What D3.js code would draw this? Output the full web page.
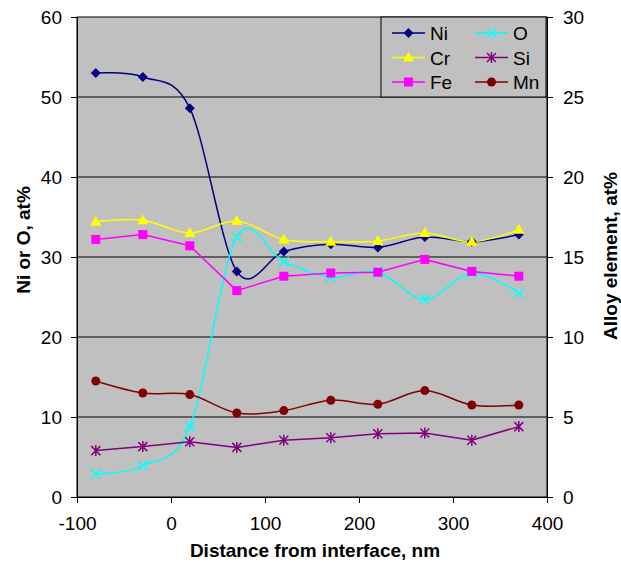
<!DOCTYPE html>
<html>
<head>
<meta charset="utf-8">
<script src="https://cdn.jsdelivr.net/npm/d3@7"></script>
<style>
  body { margin: 0; background: #fff; }
  text { font-family: "Liberation Sans", Arial, sans-serif; }
</style>
</head>
<body>
<div id="chart"></div>
<script>
// distance from interface, nm
const distance = [-80, -30, 20, 70, 120, 170, 220, 270, 320, 370];

// left axis series (Ni or O, at%)
const ni = [53.0, 52.5, 48.6, 28.2, 30.7, 31.6, 31.2, 32.5, 31.9, 32.8];
const o  = [2.9, 3.9, 8.8, 32.5, 29.4, 27.5, 28.1, 24.7, 28.0, 25.5];

// right axis series (alloy element, at%)
const cr = [17.2, 17.3, 16.5, 17.25, 16.1, 15.95, 16.0, 16.5, 15.95, 16.7];
const fe = [16.1, 16.4, 15.7, 12.9, 13.8, 14.0, 14.05, 14.85, 14.1, 13.8];
const si = [2.9, 3.15, 3.45, 3.1, 3.55, 3.7, 3.95, 4.0, 3.55, 4.4];
const mn = [7.25, 6.5, 6.4, 5.25, 5.4, 6.05, 5.8, 6.65, 5.75, 5.75];

const xTicks = [-100, 0, 100, 200, 300, 400];
const yLeftTicks = [0, 10, 20, 30, 40, 50, 60];
const yRightTicks = [0, 5, 10, 15, 20, 25, 30];

const width = 621, height = 566;
const plot = { left: 77, right: 547, top: 17, bottom: 497 };
const fontSize = "19px";

const svg = d3.select("#chart").append("svg")
    .attr("width", width)
    .attr("height", height);

const x = d3.scaleLinear().domain([-100, 400]).range([plot.left, plot.right]);
const yL = d3.scaleLinear().domain([0, 60]).range([plot.bottom, plot.top]);
const yR = d3.scaleLinear().domain([0, 30]).range([plot.bottom, plot.top]);

// plot background
svg.append("rect")
    .attr("x", plot.left).attr("y", plot.top)
    .attr("width", plot.right - plot.left)
    .attr("height", plot.bottom - plot.top)
    .attr("fill", "#c0c0c0");

// gridlines
svg.append("g")
    .selectAll("line")
    .data(yLeftTicks.slice(1, -1))
    .join("line")
    .attr("x1", plot.left).attr("x2", plot.right)
    .attr("y1", d => yL(d)).attr("y2", d => yL(d))
    .attr("stroke", "#000")
    .attr("stroke-width", 1);

// border
svg.append("rect")
    .attr("x", plot.left).attr("y", plot.top)
    .attr("width", plot.right - plot.left)
    .attr("height", plot.bottom - plot.top)
    .attr("fill", "none")
    .attr("stroke", "#000")
    .attr("stroke-width", 1);

// axes (plain hyphen for negative numbers, like the original)
const fmt = d => String(d);
const xAxis = svg.append("g")
    .attr("transform", `translate(0,${plot.bottom})`)
    .call(d3.axisBottom(x).tickValues(xTicks).tickFormat(fmt).tickSize(6).tickPadding(14));
const leftAxis = svg.append("g")
    .attr("transform", `translate(${plot.left},0)`)
    .call(d3.axisLeft(yL).tickValues(yLeftTicks).tickFormat(fmt).tickSize(6).tickPadding(9));
const rightAxis = svg.append("g")
    .attr("transform", `translate(${plot.right},0)`)
    .call(d3.axisRight(yR).tickValues(yRightTicks).tickFormat(fmt).tickSize(6).tickPadding(10));

[xAxis, leftAxis, rightAxis].forEach(g => {
    g.select(".domain").attr("stroke", "#000");
    g.selectAll(".tick line").attr("stroke", "#000");
    g.selectAll(".tick text")
     .attr("fill", "#000")
     .style("font-size", fontSize)
     .style("font-family", "'Liberation Sans', Arial, sans-serif");
});

// axis titles
svg.append("text")
    .attr("x", 315)
    .attr("y", 557)
    .attr("text-anchor", "middle")
    .style("font-size", fontSize)
    .style("font-weight", "bold")
    .text("Distance from interface, nm");

svg.append("text")
    .attr("transform", "translate(30,240) rotate(-90)")
    .attr("text-anchor", "middle")
    .style("font-size", fontSize)
    .style("font-weight", "bold")
    .text("Ni or O, at%");

svg.append("text")
    .attr("transform", "translate(617,256) rotate(-90)")
    .attr("text-anchor", "middle")
    .style("font-size", fontSize)
    .style("font-weight", "bold")
    .text("Alloy element, at%");

// series
const series = [
    { name: "Ni", values: ni, y: yL, color: "#000080", marker: "diamond", smooth: true },
    { name: "O",  values: o,  y: yL, color: "#00ffff", marker: "x", smooth: true },
    { name: "Cr", values: cr, y: yR, color: "#ffff00", marker: "triangle", smooth: true },
    { name: "Si", values: si, y: yR, color: "#800080", marker: "star", smooth: false },
    { name: "Fe", values: fe, y: yR, color: "#ff00ff", marker: "square", smooth: false },
    { name: "Mn", values: mn, y: yR, color: "#800000", marker: "circle", smooth: true }
];

function drawMarker(g, type, color) {
    if (type === "diamond") {
        g.append("path").attr("d", "M0,-5L5,0L0,5L-5,0Z").attr("fill", color);
    } else if (type === "triangle") {
        g.append("path").attr("d", "M0,-6L5.5,4L-5.5,4Z").attr("fill", color);
    } else if (type === "square") {
        g.append("rect").attr("x", -4.5).attr("y", -4.5).attr("width", 9).attr("height", 9).attr("fill", color);
    } else if (type === "circle") {
        g.append("circle").attr("r", 4.5).attr("fill", color);
    } else if (type === "x") {
        g.append("path").attr("d", "M-5,-5L5,5M-5,5L5,-5").attr("stroke", color).attr("stroke-width", 1.5).attr("fill", "none");
    } else if (type === "star") {
        g.append("path").attr("d", "M-4.5,-4.5L4.5,4.5M-4.5,4.5L4.5,-4.5M0,-5.5L0,5.5").attr("stroke", color).attr("stroke-width", 1.5).attr("fill", "none");
    }
}

series.forEach(s => {
    const line = d3.line()
        .x((d, i) => x(distance[i]))
        .y(d => s.y(d))
        .curve(s.smooth ? d3.curveCardinal.tension(0) : d3.curveLinear);
    svg.append("path")
        .datum(s.values)
        .attr("d", line)
        .attr("fill", "none")
        .attr("stroke", s.color)
        .attr("stroke-width", 1.5);
});

series.forEach(s => {
    s.values.forEach((v, i) => {
        const g = svg.append("g").attr("transform", `translate(${x(distance[i])},${s.y(v)})`);
        drawMarker(g, s.marker, s.color);
    });
});

// legend
const legend = svg.append("g");
legend.append("rect")
    .attr("x", 381).attr("y", 17)
    .attr("width", 165).attr("height", 80)
    .attr("fill", "#c0c0c0")
    .attr("stroke", "#000")
    .attr("stroke-width", 1);

const legendOrder = ["Ni", "O", "Cr", "Si", "Fe", "Mn"];
legendOrder.forEach((name, i) => {
    const s = series.find(d => d.name === name);
    const col = i % 2, row = Math.floor(i / 2);
    const lx = 392 + col * 83;
    const ly = 33 + row * 24.5;
    legend.append("line")
        .attr("x1", lx).attr("x2", lx + 33)
        .attr("y1", ly).attr("y2", ly)
        .attr("stroke", s.color)
        .attr("stroke-width", 1.5);
    drawMarker(legend.append("g").attr("transform", `translate(${lx + 16.5},${ly})`), s.marker, s.color);
    legend.append("text")
        .attr("x", lx + 38)
        .attr("y", ly + 7)
        .style("font-size", fontSize)
        .text(name);
});
</script>
</body>
</html>
